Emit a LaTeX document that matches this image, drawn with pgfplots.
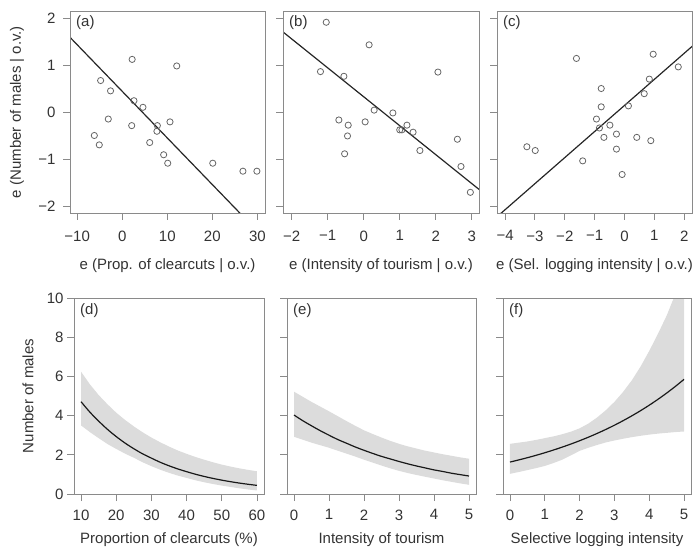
\documentclass[border=0pt]{standalone}
\usepackage{pgfplots}
\pgfplotsset{compat=1.18}
\usepackage{fontspec}
\setmainfont{Liberation Sans}
\definecolor{boxc}{HTML}{8A8A8A}
\definecolor{txtc}{HTML}{333333}
\definecolor{ptc}{HTML}{666666}
\definecolor{bandc}{HTML}{DCDCDC}
\newcommand{\fs}{\fontsize{15}{18}\selectfont}
\tikzset{plab/.style={anchor=west, inner sep=0pt, font=\fs, text=txtc, xshift=6pt}}
\pgfplotsset{
  rp/.style={
    scale only axis, anchor=south west,
    axis on top,
    axis line style={boxc, line width=0.9pt},
    every tick/.style={boxc, line width=0.9pt},
    tick align=outside, major tick length=7pt,
    xtick pos=bottom, ytick pos=left,
    tick label style={font=\fs, text=txtc},
    /pgf/number format/assume math mode=true,
    clip=true,
  },
  toprow/.style={rp, height=202pt, ymin=-2.15, ymax=2.15,
    ytick={-2,-1,0,1,2}, xticklabel shift=7pt, yticklabel shift=4pt},
  botrow/.style={rp, height=196pt, ymin=0, ymax=10,
    ytick={0,2,4,6,8,10}, xticklabel shift=5pt},
  pts/.style={only marks, mark=o, mark size=3.1pt, ptc, mark options={line width=0.8pt}},
  rline/.style={black!85, line width=1.2pt},
  fitc/.style={black!90, line width=1.2pt, smooth},
  band/.style={fill=bandc, draw=none},
}
\begin{document}
\begin{tikzpicture}
\useasboundingbox (0pt,0pt) rectangle (700pt,552pt);
% ---------------- (a)
\begin{axis}[toprow, at={(70pt,339pt)}, width=195pt,
  xmin=-11.6, xmax=31.7, xtick={-10,0,10,20,30},
  xticklabels={−10,0,10,20,30}, yticklabels={−2,−1,0,1,2}]
\addplot[rline] coordinates {(-13,1.729) (33,-2.834)};
\addplot[pts] coordinates {
(2.2,1.12) (12.1,0.98) (-4.8,0.67) (-2.6,0.45) (2.6,0.24) (4.6,0.10)
(-3.1,-0.15) (2.1,-0.29) (7.8,-0.29) (7.7,-0.41) (10.6,-0.21) (-6.2,-0.50)
(6.1,-0.65) (-5.1,-0.70) (9.2,-0.91) (10.1,-1.09) (20.1,-1.09) (26.8,-1.26) (29.9,-1.26)};
\node[plab, yshift=-12pt] at (rel axis cs:0,1) {(a)};
\end{axis}
% ---------------- (b)
\begin{axis}[toprow, at={(283pt,339pt)}, width=196pt,
  xmin=-2.24, xmax=3.2, xtick={-2,-1,0,1,2,3},
  xticklabels={−2,−1,0,1,2,3}, yticklabels={}]
\addplot[rline] coordinates {(-2.5,1.864) (3.5,-1.832)};
\addplot[pts] coordinates {
(-1.04,1.91) (0.15,1.43) (-1.20,0.86) (-0.55,0.76) (2.06,0.85) (0.29,0.04)
(0.81,-0.02) (-0.69,-0.17) (-0.43,-0.28) (0.04,-0.21) (1.20,-0.28) (1.00,-0.38)
(1.06,-0.38) (1.37,-0.43) (-0.45,-0.51) (2.60,-0.58) (1.56,-0.82) (-0.53,-0.89)
(2.70,-1.16) (2.96,-1.71)};
\node[plab, yshift=-12pt] at (rel axis cs:0,1) {(b)};
\end{axis}
% ---------------- (c)
\begin{axis}[toprow, at={(497pt,339pt)}, width=195pt,
  xmin=-4.27, xmax=2.26, xtick={-4,-3,-2,-1,0,1,2},
  xticklabels={−4,−3,−2,−1,0,1,2}, yticklabels={}]
\addplot[rline] coordinates {(-4.5,-2.358) (2.5,1.528)};
\addplot[pts] coordinates {
(-1.61,1.14) (0.96,1.23) (1.80,0.96) (0.83,0.70) (0.66,0.39) (-0.78,0.50)
(-0.78,0.11) (0.13,0.13) (-0.94,-0.15) (-0.84,-0.34) (-0.49,-0.28) (-0.27,-0.47)
(-0.69,-0.54) (0.41,-0.54) (0.88,-0.61) (-0.27,-0.79) (-3.27,-0.74) (-2.99,-0.82)
(-1.40,-1.04) (-0.08,-1.33)};
\node[plab, yshift=-12pt] at (rel axis cs:0,1) {(c)};
\end{axis}
% ---------------- (d)
\begin{axis}[botrow, at={(74pt,58pt)}, width=190pt,
  xmin=8, xmax=62, xtick={10,20,30,40,50,60},
  xticklabels={10,20,30,40,50,60}, yticklabels={0,2,4,6,8,10}]
\addplot[band] coordinates {
(10,6.24) (12.5,5.60) (15,5.05) (17.5,4.58) (20,4.15) (22.5,3.78) (25,3.45) (27.5,3.15)
(30,2.88) (32.5,2.64) (35,2.42) (37.5,2.22) (40,2.05) (42.5,1.89) (45,1.75) (47.5,1.62)
(50,1.50) (52.5,1.40) (55,1.31) (57.5,1.23) (60,1.16)
(60,0.18) (57.5,0.23) (55,0.29) (52.5,0.36) (50,0.43) (47.5,0.51) (45,0.60) (42.5,0.70)
(40,0.82) (37.5,0.94) (35,1.08) (32.5,1.24) (30,1.42) (27.5,1.62) (25,1.85) (22.5,2.06)
(20,2.30) (17.5,2.55) (15,2.85) (12.5,3.16) (10,3.50)} -- cycle;
\addplot[fitc] coordinates {
(10,4.71) (12.5,4.18) (15,3.72) (17.5,3.30) (20,2.93) (22.5,2.60) (25,2.31) (27.5,2.05)
(30,1.83) (32.5,1.62) (35,1.44) (37.5,1.28) (40,1.14) (42.5,1.01) (45,0.896) (47.5,0.796)
(50,0.707) (52.5,0.628) (55,0.558) (57.5,0.496) (60,0.440)};
\node[plab, yshift=-13pt] at (rel axis cs:0,1) {(d)};
\end{axis}
% ---------------- (e)
\begin{axis}[botrow, at={(287pt,58pt)}, width=189pt,
  xmin=-0.2, xmax=5.2, xtick={0,1,2,3,4,5}, xticklabels={0,1,2,3,4,5}, yticklabels={}]
\addplot[band] coordinates {
(0,5.22) (0.25,4.96) (0.5,4.70) (0.75,4.46) (1,4.22) (1.25,3.97) (1.5,3.72) (1.75,3.48)
(2,3.25) (2.25,3.06) (2.5,2.88) (2.75,2.71) (3,2.56) (3.25,2.43) (3.5,2.32) (3.75,2.21)
(4,2.12) (4.25,2.03) (4.5,1.95) (4.75,1.87) (5,1.80)
(5,0.47) (4.75,0.54) (4.5,0.62) (4.25,0.70) (4,0.79) (3.75,0.88) (3.5,0.97) (3.25,1.07)
(3,1.18) (2.75,1.31) (2.5,1.45) (2.25,1.60) (2,1.75) (1.75,1.91) (1.5,2.06) (1.25,2.21)
(1,2.36) (0.75,2.49) (0.5,2.62) (0.25,2.77) (0,2.92)} -- cycle;
\addplot[fitc] coordinates {
(0,4.03) (0.25,3.74) (0.5,3.48) (0.75,3.23) (1,3.00) (1.25,2.78) (1.5,2.59) (1.75,2.40)
(2,2.23) (2.25,2.07) (2.5,1.92) (2.75,1.79) (3,1.66) (3.25,1.54) (3.5,1.43) (3.75,1.33)
(4,1.23) (4.25,1.15) (4.5,1.06) (4.75,0.988) (5,0.917)};
\node[plab, yshift=-13pt] at (rel axis cs:0,1) {(e)};
\end{axis}
% ---------------- (f)
\begin{axis}[botrow, at={(503pt,58pt)}, width=188pt,
  xmin=-0.2, xmax=5.2, xtick={0,1,2,3,4,5}, xticklabels={0,1,2,3,4,5}, yticklabels={}]
\addplot[band] coordinates {
(0,2.56) (0.25,2.62) (0.5,2.68) (0.75,2.76) (1,2.85) (1.25,2.94) (1.5,3.05) (1.75,3.18)
(2,3.35) (2.25,3.59) (2.5,3.90) (2.75,4.27) (3,4.70) (3.25,5.21) (3.5,5.80) (3.75,6.50)
(4,7.30) (4.25,8.17) (4.5,9.10) (4.75,10.2) (5,11.5)
(5,3.19) (4.75,3.16) (4.5,3.12) (4.25,3.08) (4,3.03) (3.75,2.97) (3.5,2.90) (3.25,2.82)
(3,2.73) (2.75,2.63) (2.5,2.50) (2.25,2.36) (2,2.20) (1.75,1.97) (1.5,1.75) (1.25,1.58)
(1,1.43) (0.75,1.32) (0.5,1.22) (0.25,1.12) (0,1.03)} -- cycle;
\addplot[fitc] coordinates {
(0,1.63) (0.25,1.738) (0.5,1.852) (0.75,1.974) (1,2.105) (1.25,2.244) (1.5,2.392) (1.75,2.550)
(2,2.718) (2.25,2.897) (2.5,3.088) (2.75,3.292) (3,3.509) (3.25,3.741) (3.5,3.988) (3.75,4.251)
(4,4.531) (4.25,4.830) (4.5,5.149) (4.75,5.489) (5,5.851)};
\node[plab, yshift=-13pt] at (rel axis cs:0,1) {(f)};
\end{axis}
% ---------------- axis titles
\node[font=\fs, text=txtc] at (167.5pt,286pt) {e (Prop. of clearcuts | o.v.)};
\node[font=\fs, text=txtc] at (381pt,286pt) {e (Intensity of tourism | o.v.)};
\node[font=\fs, text=txtc] at (594.5pt,286pt) {e (Sel. logging intensity | o.v.)};
\node[font=\fs, text=txtc] at (169pt,12pt) {Proportion of clearcuts (\%)};
\node[font=\fs, text=txtc] at (381.5pt,12pt) {Intensity of tourism};
\node[font=\fs, text=txtc] at (597pt,12pt) {Selective logging intensity};
\node[font=\fs, text=txtc, rotate=90] at (17pt,440pt) {e (Number of males | o.v.)};
\node[font=\fs, text=txtc, rotate=90] at (28pt,156pt) {Number of males};
\end{tikzpicture}
\end{document}
